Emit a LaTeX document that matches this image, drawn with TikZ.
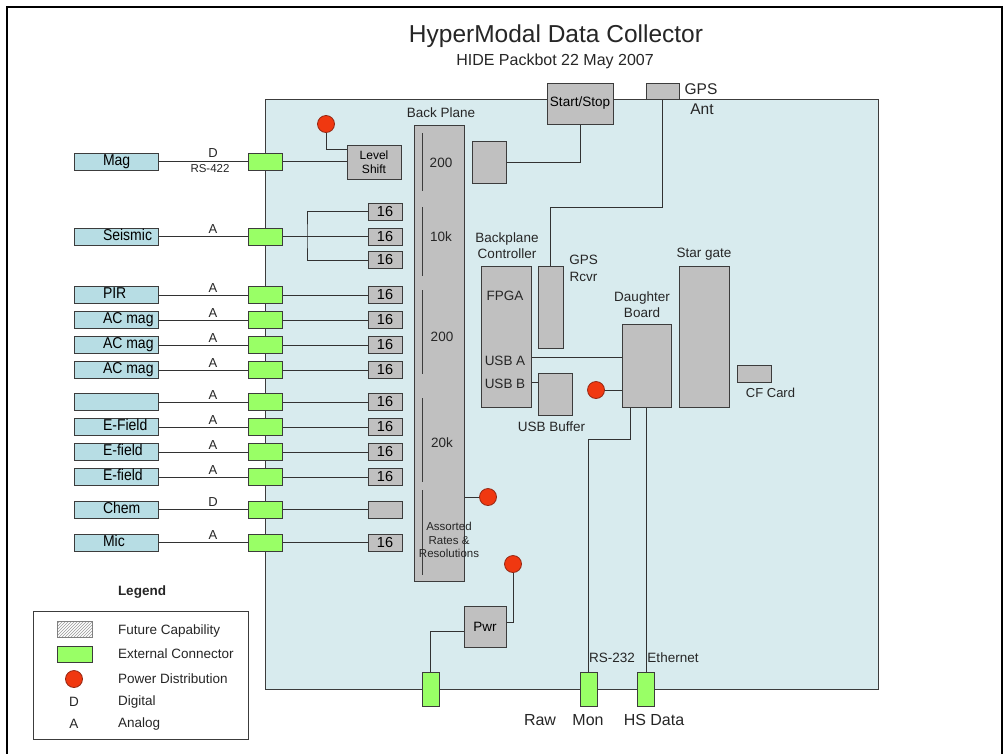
\documentclass[tikz,border=0pt]{standalone}
\usepackage{fontspec}
\setmainfont{Liberation Sans}
\usetikzlibrary{patterns,calc}
\definecolor{panelfill}{RGB}{216,235,238}
\definecolor{sensorfill}{RGB}{183,221,228}
\definecolor{boxgray}{RGB}{192,192,192}
\definecolor{edgec}{RGB}{60,60,60}
\definecolor{wirec}{RGB}{50,50,50}
\definecolor{conngreen}{RGB}{153,255,102}
\definecolor{dotred}{RGB}{240,56,16}
\definecolor{dotedge}{RGB}{150,40,20}
\newcommand\myfs[2]{\fontsize{#1pt}{#2pt}\selectfont}
\newcommand\slab[1]{\hspace*{29pt}\makebox[55pt][l]{\scalebox{1}[1.12]{#1}}}
\tikzset{
 gbox/.style={draw=edgec, fill=boxgray, line width=1pt, inner sep=0pt},
 sensor/.style={draw=edgec, fill=sensorfill, line width=1pt, minimum width=84pt, minimum height=17pt, inner sep=0pt, text height=10pt, text depth=3pt, font=\myfs{14}{16}},
 connbox/.style={draw=edgec, fill=conngreen, line width=1pt, minimum width=34pt, minimum height=17pt, inner sep=0pt},
 vconn/.style={connbox, minimum width=17pt, minimum height=34pt},
 chan/.style={gbox, minimum width=34pt, minimum height=17pt, text height=10pt, text depth=1pt, font=\myfs{14.5}{16}},
 pdot/.style={circle, draw=dotedge, fill=dotred, line width=0.8pt, minimum size=17pt, inner sep=0pt},
 wire/.style={draw=wirec, line width=1pt},
 lbl/.style={inner sep=0pt, text=black!85},
 sig/.style={lbl, font=\myfs{13}{14}},
 bptext/.style={lbl, font=\myfs{13.5}{15}},
 ml/.style={lbl, align=center, font=\myfs{13.5}{16}},
 legtext/.style={lbl, anchor=west, font=\myfs{13.5}{15}},
}
\begin{document}
\begin{tikzpicture}[x=1pt,y=-1pt]
\useasboundingbox (0,0) rectangle (1003,753);
\clip (0,0) rectangle (1003,753);
\fill[white] (0,0) rectangle (1003,753);
\draw[line width=2.2pt] (7.3,760) -- (7.3,7.3) -- (1001.8,7.3) -- (1001.8,760);

% panel
\node[draw=edgec, fill=panelfill, line width=1pt, minimum width=613pt, minimum height=590pt, inner sep=0pt] (panel) at (571.5,394) {};

% title
\node[lbl, font=\myfs{24.5}{28}] (title) at (556,36) {HyperModal Data Collector};
\node[lbl, font=\myfs{16}{18}] (subtitle) at (555,61) {HIDE Packbot 22 May 2007};

% Mag row
\node[sensor] (s1) at (116,161.5) {\slab{Mag}};
\node[connbox] (c1) at (265,161.5) {};
\node[sig, anchor=base] (g1) at (213,157.5) {D};
\node[lbl, font=\myfs{11.5}{13}] (rs422) at (210,169) {RS-422};
\node[gbox, minimum width=54pt, minimum height=34pt, align=center, font=\myfs{12}{14}] (ls) at (374,162) {Level\\Shift};
\node[pdot] (dot1) at (326,124) {};
\draw[wire] (s1) -- (c1);
\draw[wire] (c1.east) -- (c1.east -| ls.west);
\draw[wire] (dot1.south) |- ([yshift=13pt]ls.west);

% Seismic row
\node[sensor] (s2) at (116,236.5) {\slab{Seismic}};
\node[connbox] (c2) at (265,236.5) {};
\node[sig, anchor=base] (g2) at (213,233.5) {A};
\node[chan] (t2a) at (385,211.7) {16};
\node[chan] (t2b) at (385,236.5) {16};
\node[chan] (t2c) at (385,260) {16};
\coordinate (br) at (307,236.5);
\draw[wire] (s2) -- (c2);
\draw[wire] (c2) -- (t2b);
\draw[wire] (t2a.west) -| (br) |- (t2c.west);

% standard rows
\foreach \i/\y/\t/\s/\n in {3/295/PIR/A/16, 4/320/AC mag/A/16, 5/345/AC mag/A/16, 6/370/AC mag/A/16, 7/402/{}/A/16, 8/427/E-Field/A/16, 9/452/E-field/A/16, 10/477/E-field/A/16, 11/509.5/Chem/D/{}, 12/542.5/Mic/A/16}{
  \node[sensor] (s\i) at (116,\y) {\slab{\t}};
  \node[connbox] (c\i) at (265,\y) {};
  \node[chan] (t\i) at (385,\y) {\n};
  \node[sig, anchor=base] (g\i) at (213,\y-3) {\s};
  \draw[wire] (s\i) -- (c\i);
  \draw[wire] (c\i) -- (t\i);
}

% back plane
\node[lbl, font=\myfs{13.5}{15}] (bplabel) at (441,113) {Back Plane};
\node[gbox, minimum width=50pt, minimum height=456pt] (bp) at (439,353) {};
\draw[edgec, line width=1pt] (422,133) -- (422,191);
\draw[edgec, line width=1pt] (422,207) -- (422,276);
\draw[edgec, line width=1pt] (422,290) -- (422,374);
\draw[edgec, line width=1pt] (422,398) -- (422,482);
\draw[edgec, line width=1pt] (422,490) -- (422,575);
\node[bptext] (r1) at (441,163) {200};
\node[bptext] (r2) at (441,237) {10k};
\node[bptext] (r3) at (442,337) {200};
\node[bptext] (r4) at (442,443) {20k};
\node[lbl, align=center, font=\myfs{11.5}{13.5}] (r5) at (449,540) {Assorted\\Rates \&\\Resolutions};
\node[pdot] (dot2) at (488,497) {};
\draw[wire] (bp.east |- dot2) -- (dot2);

% start/stop
\node[gbox, minimum width=34pt, minimum height=42pt] (sbx) at (489,162) {};
\node[gbox, minimum width=66pt, minimum height=41pt, font=\myfs{13.5}{15}] (ss) at (580,103.5) {Start/Stop};
\draw[wire] (sbx.east) -| (ss.south);

% GPS
\node[gbox, minimum width=33pt, minimum height=16pt] (gant) at (662.5,91) {};
\node[lbl, font=\myfs{15.5}{17}] (gpsl) at (701,89) {GPS};
\node[lbl, font=\myfs{15.5}{17}] (antl) at (702,109) {Ant};
\node[gbox, minimum width=25pt, minimum height=82pt] (grx) at (550.5,307) {};
\node[ml, font=\myfs{13.5}{17}] (grxl) at (583.5,268.5) {GPS\\Rcvr};
\coordinate (gk) at (662.5,207);
\draw[wire] (gant.south) -- (gk) -| (grx.north);

% backplane controller
\node[ml] (bpcl) at (507,246) {Backplane\\Controller};
\node[gbox, minimum width=50pt, minimum height=141pt] (bpc) at (506,336.5) {};
\node[bptext] (fpga) at (505,296) {FPGA};
\node[bptext] (usba) at (505,361) {USB A};
\node[bptext] (usbb) at (505,384) {USB B};
\node[gbox, minimum width=34pt, minimum height=42pt] (ub) at (555,394) {};
\node[bptext] (ubl) at (551.5,427) {USB Buffer};
\node[gbox, minimum width=49pt, minimum height=83pt] (db) at (646.5,365.5) {};
\node[ml] (dbl) at (642,305) {Daughter\\Board};
\draw[wire] (bpc.east |- 0,382) -- (ub.west |- 0,382);
\draw[wire] (bpc.east |- 0,357) -- (db.west |- 0,357);
\node[pdot] (dot3) at (596,390) {};
\draw[wire] (dot3) -- (db.west |- dot3);

% star gate, CF
\node[gbox, minimum width=50pt, minimum height=141pt] (sg) at (704,336.5) {};
\node[bptext] (sgl) at (704,254) {Star gate};
\node[gbox, minimum width=34pt, minimum height=17pt] (cf) at (754,373.5) {};
\node[lbl, font=\myfs{13}{15}] (cfl) at (770.5,393) {CF Card};

% bottom connectors
\node[vconn] (craw) at (430.5,689) {};
\node[vconn] (cmon) at (588.5,689) {};
\node[vconn] (chs) at (646,689) {};
\coordinate (mk) at (588.5,439);
\draw[wire] ([xshift=-16.5pt]db.south) |- (mk) -- (cmon.north);
\draw[wire] (db.south -| chs.north) -- (chs.north);
\node[lbl, font=\myfs{13.5}{15}] (rs232) at (612,658) {RS-232};
\node[lbl, font=\myfs{13.5}{15}] (eth) at (673,658) {Ethernet};
\node[lbl, font=\myfs{16}{18}] (rawl) at (540,720) {Raw};
\node[lbl, font=\myfs{16}{18}] (monl) at (588,720) {Mon};
\node[lbl, font=\myfs{16}{18}] (hsl) at (654,720) {HS Data};

% power
\node[gbox, minimum width=42pt, minimum height=41pt, font=\myfs{13.5}{15}] (pwr) at (485,626.5) {Pwr};
\node[pdot] (dot4) at (513,564) {};
\draw[wire] (dot4.south) |- ([yshift=4.5pt]pwr.east);
\draw[wire] ([yshift=-4.5pt]pwr.west) -| (craw.north);

% legend
\node[lbl, font=\bfseries\myfs{13.5}{15}] (legt) at (142,592) {Legend};
\node[draw=edgec, fill=white, line width=1pt, minimum width=215pt, minimum height=128pt, inner sep=0pt] (legbox) at (140.5,675) {};
\node[draw=gray, fill=white, pattern=north east lines, pattern color=gray!80, minimum width=35pt, minimum height=16pt, inner sep=0pt] (lh) at (74.5,629) {};
\node[legtext] (lht) at (118,631) {Future Capability};
\node[connbox, minimum width=35pt, minimum height=16pt] (lc) at (74.5,654) {};
\node[legtext] (lct) at (118,654) {External Connector};
\node[pdot] (ld) at (74,679) {};
\node[legtext] (ldt) at (118,679) {Power Distribution};
\node[lbl, font=\myfs{13.5}{15}] (lD) at (74,702) {D};
\node[legtext] (lDt) at (118,702) {Digital};
\node[lbl, font=\myfs{13.5}{15}] (lA) at (74,724) {A};
\node[legtext] (lAt) at (118,724) {Analog};
\end{tikzpicture}
\end{document}
